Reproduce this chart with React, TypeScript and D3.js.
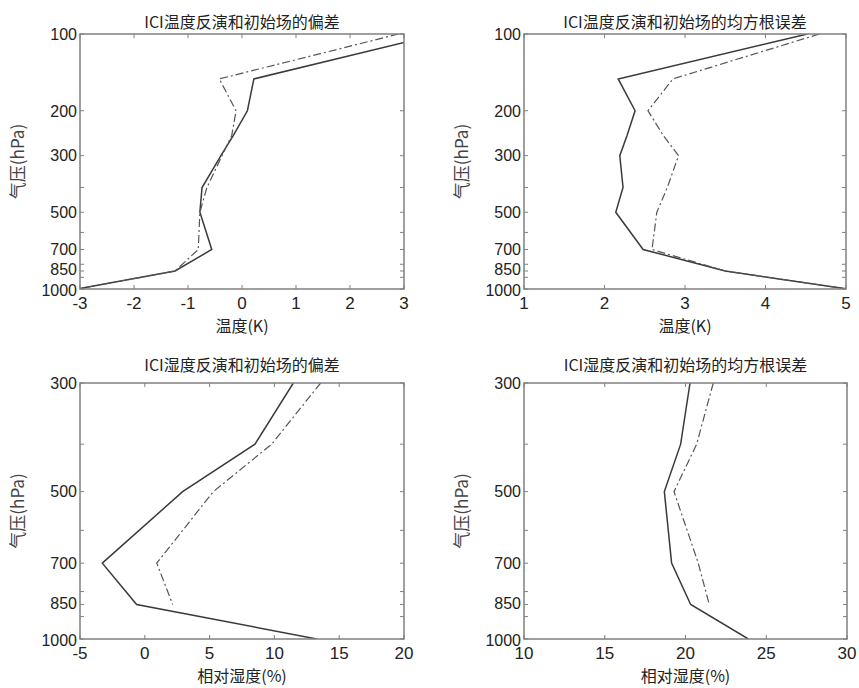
import React from "react";
import * as d3 from "d3";

// pressure levels (hPa)
const levelsT = [100, 150, 200, 250, 300, 400, 500, 700, 850, 1000];
const levelsQ = [300, 400, 500, 700, 850, 1000];

// temperature bias (K)
const tBiasSolid = [3.65, 0.22, 0.1, -0.16, -0.39, -0.74, -0.78, -0.56, -1.24, -3.05];
const tBiasDash = [2.9, -0.42, -0.11, -0.19, -0.37, -0.65, -0.78, -0.81, -1.24, -3.05];

// temperature rmse (K)
const tRmsSolid = [4.52, 2.17, 2.38, 2.28, 2.19, 2.23, 2.14, 2.48, 3.5, 5.02];
const tRmsDash = [4.67, 2.85, 2.54, 2.73, 2.92, 2.78, 2.65, 2.59, 3.5, 5.02];

// humidity bias (%)
const qBiasSolid = [11.46, 8.5, 2.92, -3.28, -0.63, 13.26];
const qBiasDash = [13.57, 9.79, 5.29, 0.92, 2.15];

// humidity rmse (%)
const qRmsSolid = [20.28, 19.7, 18.69, 19.14, 20.32, 23.89];
const qRmsDash = [21.72, 20.69, 19.29, 20.79, 21.47];

const yTicksT = [100, 200, 300, 400, 500, 600, 700, 800, 850, 900, 1000];
const yLabelsT = [100, 200, 300, 500, 700, 850, 1000];
const yTicksQ = [300, 400, 500, 600, 700, 800, 850, 900, 1000];
const yLabelsQ = [300, 500, 700, 850, 1000];

const panels = [
  {
    id: "tb", title: "ICI温度反演和初始场的偏差", xlabel: "温度(K)",
    box: [80, 34, 404, 289], xdom: [-3, 3], xticks: d3.range(-3, 4, 1),
    ydom: [100, 1000], yticks: yTicksT, ylabels: yLabelsT, titleY: 28,
    solid: tBiasSolid, dash: tBiasDash, lev: levelsT,
  },
  {
    id: "tr", title: "ICI温度反演和初始场的均方根误差", xlabel: "温度(K)",
    box: [524, 34, 846, 289], xdom: [1, 5], xticks: d3.range(1, 6, 1),
    ydom: [100, 1000], yticks: yTicksT, ylabels: yLabelsT, titleY: 28,
    solid: tRmsSolid, dash: tRmsDash, lev: levelsT,
  },
  {
    id: "qb", title: "ICI湿度反演和初始场的偏差", xlabel: "相对湿度(%)",
    box: [80, 383, 404, 639], xdom: [-5, 20], xticks: d3.range(-5, 21, 5),
    ydom: [300, 1000], yticks: yTicksQ, ylabels: yLabelsQ, titleY: 371,
    solid: qBiasSolid, dash: qBiasDash, lev: levelsQ,
  },
  {
    id: "qr", title: "ICI湿度反演和初始场的均方根误差", xlabel: "相对湿度(%)",
    box: [524, 383, 847, 639], xdom: [10, 30], xticks: d3.range(10, 31, 5),
    ydom: [300, 1000], yticks: yTicksQ, ylabels: yLabelsQ, titleY: 371,
    solid: qRmsSolid, dash: qRmsDash, lev: levelsQ,
  },
];

const font = "'Liberation Sans', Arial, sans-serif";
const cjk = "'Noto Sans CJK SC', 'Liberation Sans', sans-serif";

// small nudge so the crowded 850/1000 labels do not collide
const labelNudge = (t: number) => (t === 850 ? -1.5 : t === 1000 ? 1 : 0);

function Panel({ p }: { p: any }) {
  const [x0, y0, x1, y1] = p.box;
  const x = d3.scaleLinear().domain(p.xdom).range([x0, x1]);
  const y = d3.scaleLog().domain(p.ydom).range([y0, y1]);
  const line = d3.line<[number, number]>().x((d) => x(d[0])).y((d) => y(d[1]));
  const solidPts: [number, number][] = p.solid.map((v: number, i: number) => [v, p.lev[i]]);
  const dashPts: [number, number][] = p.dash.map((v: number, i: number) => [v, p.lev[i]]);
  const tk = 4;
  const cx = (x0 + x1) / 2;
  return (
    <g>
      <defs>
        <clipPath id={"clip-" + p.id}>
          <rect x={x0} y={y0} width={x1 - x0} height={y1 - y0} />
        </clipPath>
      </defs>
      <g clipPath={`url(#clip-${p.id})`}>
        <path d={line(solidPts) || ""} fill="none" stroke="#3a3a3a" strokeWidth={1.5} />
        <path d={line(dashPts) || ""} fill="none" stroke="#555" strokeWidth={1.2}
          strokeDasharray="8 3 2 3" />
      </g>
      <rect x={x0} y={y0} width={x1 - x0} height={y1 - y0} fill="none" stroke="#808080" strokeWidth={1.5} />
      {p.xticks.map((t: number) => (
        <g key={"x" + t}>
          <line x1={x(t)} x2={x(t)} y1={y1} y2={y1 - tk} stroke="#808080" />
          <line x1={x(t)} x2={x(t)} y1={y0} y2={y0 + tk} stroke="#808080" />
          <text x={x(t)} y={y1 + 20} textAnchor="middle" fontFamily={font} fontSize={17}
            fill="#222">{t}</text>
        </g>
      ))}
      {p.yticks.map((t: number) => (
        <g key={"y" + t}>
          <line x1={x0} x2={x0 + tk} y1={y(t)} y2={y(t)} stroke="#808080" />
          <line x1={x1} x2={x1 - tk} y1={y(t)} y2={y(t)} stroke="#808080" />
        </g>
      ))}
      {p.ylabels.map((t: number) => (
        <text key={"yl" + t} x={x0 - 3} y={y(t) + labelNudge(t)} dy="0.36em" textAnchor="end"
          fontFamily={font} fontSize={16} fill="#222">{t}</text>
      ))}
      <text x={cx} y={p.titleY} textAnchor="middle" fontFamily={cjk} fontSize={16} fill="#222">
        {p.title}
      </text>
      <text x={cx} y={y1 + 43} textAnchor="middle" fontFamily={cjk} fontSize={16} fill="#222">
        {p.xlabel}
      </text>
      <text transform={`translate(${x0 - 62},${(y0 + y1) / 2}) rotate(-90)`} textAnchor="middle"
        dy="0.35em" fontFamily={cjk} fontSize={17} fill="#444">气压(hPa)</text>
    </g>
  );
}

export default function App() {
  return (
    <svg width={859} height={688} style={{ position: "absolute", left: 0, top: 0, background: "#fff" }}>
      <rect width={859} height={688} fill="#fff" />
      {panels.map((p) => (
        <Panel key={p.id} p={p} />
      ))}
    </svg>
  );
}
